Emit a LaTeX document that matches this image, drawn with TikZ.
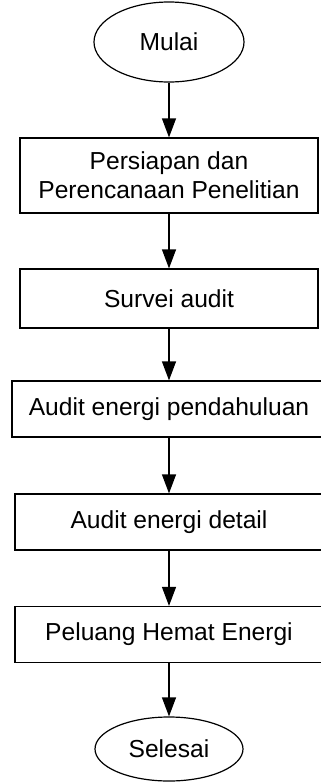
\documentclass[tikz,border=0pt]{standalone}
\usepackage{fontspec}
\setmainfont{Liberation Sans}
\usetikzlibrary{shapes.geometric,arrows.meta}
\begin{document}
\begin{tikzpicture}[x=1pt,y=-1pt,
  every node/.style={font=\fontsize{24.6}{29}\selectfont, align=center, inner sep=0pt, draw=black, line width=1.2pt},
  term/.style={ellipse},
  proc/.style={rectangle},
  flow/.style={line width=1.2pt, -{Triangle[length=19pt,width=14pt]}}]
\useasboundingbox (0,0) rectangle (321,782);
\node[term, minimum width=150pt, minimum height=80pt] (mulai) at (169,42) {Mulai};
\node[proc, minimum width=298pt, minimum height=75pt] (b1) at (169,175.5) {Persiapan dan\\Perencanaan Penelitian};
\node[proc, minimum width=298pt, minimum height=59pt] (b2) at (169,298.5) {Survei audit};
\node[proc, minimum width=314pt, minimum height=56pt] (b3) at (169,409) {Audit energi pendahuluan};
\node[proc, minimum width=308pt, minimum height=56pt] (b4) at (169,522) {Audit energi detail};
\node[proc, minimum width=308pt, minimum height=56pt] (b5) at (169,634.5) {Peluang Hemat Energi};
\node[term, minimum width=148pt, minimum height=64pt] (selesai) at (169,749) {Selesai};
\draw[flow] (mulai) -- (b1);
\draw[flow] (b1) -- (b2);
\draw[flow] (b2) -- (b3);
\draw[flow] (b3) -- (b4);
\draw[flow] (b4) -- (b5);
\draw[flow] (b5) -- (selesai);
\end{tikzpicture}
\end{document}
